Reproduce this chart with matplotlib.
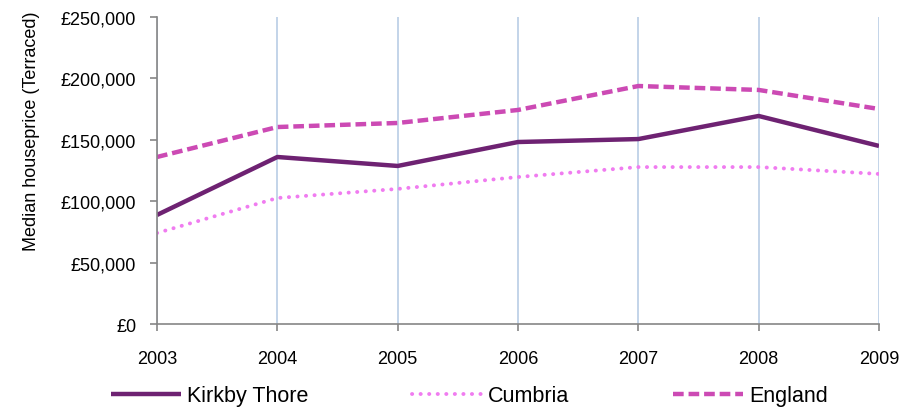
import matplotlib.pyplot as plt
from matplotlib.ticker import FuncFormatter

plt.rcParams['font.family'] = ['Liberation Sans', 'DejaVu Sans']

years = [2003, 2004, 2005, 2006, 2007, 2008, 2009]
kirkby_thore = [88800, 136000, 128700, 148200, 150600, 169400, 145000]
cumbria = [74100, 102600, 110000, 119700, 127800, 127800, 122200]
england = [136000, 160400, 163700, 174300, 193800, 190600, 175100]

fig = plt.figure(figsize=(9.17, 4.14), dpi=100)
ax = fig.add_axes([157 / 917, 1 - 325 / 414, (879 - 157) / 917, (325 - 18) / 414])

ax.plot(years, kirkby_thore, color='#6E2272', lw=3.2, solid_capstyle='butt', label='Kirkby Thore')
ax.plot(years, cumbria, color='#F07CF0', lw=2.8, linestyle=(0, (0.05, 2.15)), dash_capstyle='round', label='Cumbria')
ax.plot(years, england, color='#CC4AB4', lw=3.2, linestyle=(0, (2.4, 1.1)), label='England')

ax.set_xlim(2003, 2009)
ax.set_ylim(0, 250000)
ax.set_xticks(years)
ax.set_yticks(range(0, 250001, 50000))
ax.yaxis.set_major_formatter(FuncFormatter(lambda v, p: '£{:,.0f}'.format(v)))

ax.grid(axis='x', color='#B9CDE5', lw=1.2)
ax.set_axisbelow(True)
for s in ['top', 'right']:
    ax.spines[s].set_visible(False)
for s in ['left', 'bottom']:
    ax.spines[s].set_color('#868686')
    ax.spines[s].set_linewidth(1.2)
ax.tick_params(axis='both', colors='#868686', labelcolor='black', labelsize=13, length=5, width=1.2)
ax.tick_params(axis='y', pad=10)
ax.tick_params(axis='x', pad=14)

ax.set_ylabel('Median houseprice (Terraced)', fontsize=13)
ax.yaxis.set_label_coords(-0.162, 0.63)

ax.legend(loc='center left', bbox_to_anchor=(-0.079, -0.2345), ncol=3, frameon=False,
          fontsize=15.5, handlelength=3.25, columnspacing=4.8, handletextpad=0.3, borderpad=0)

plt.savefig('out.png', dpi=100)
